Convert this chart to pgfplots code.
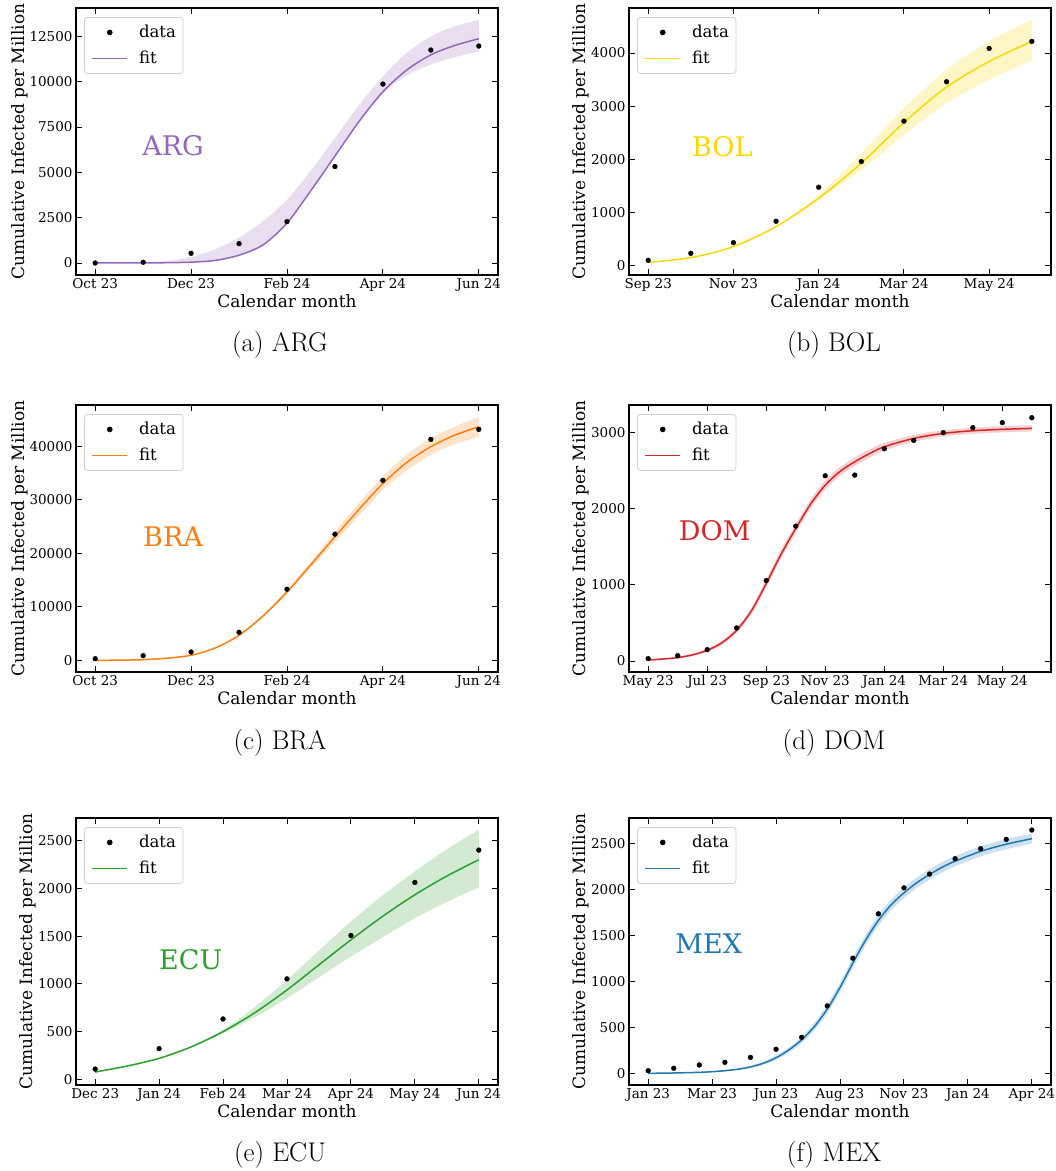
\documentclass[border=0pt]{standalone}
\usepackage{fontspec}
\usepackage{pgfplots}
\pgfplotsset{compat=1.18}
\usepgfplotslibrary{fillbetween}
\newfontfamily\dvs{DejaVu Serif}
\definecolor{argc}{HTML}{9467BD}
\definecolor{bolc}{HTML}{FFD700}
\definecolor{brac}{HTML}{FF7F0E}
\definecolor{domc}{HTML}{D62728}
\definecolor{ecuc}{HTML}{2CA02C}
\definecolor{mexc}{HTML}{1F77B4}
\tikzset{
  cname/.style={font=\fontsize{27}{30}\dvs, anchor=center},
  subcap/.style={font=\fontsize{27}{31}\selectfont, anchor=base},
}
\pgfplotsset{
  panel/.style={
    scale only axis, width=422pt, height=267pt,
    axis line style={line width=1.1pt},
    tick align=inside, major tick length=6pt,
    every tick/.style={black, line width=0.9pt},
    ticklabel style={font=\fontsize{13.5}{15}\dvs, inner sep=0pt},
    /pgf/number format/assume math mode=true,
    /pgf/number format/1000 sep={},
    scaled y ticks=false,
    xticklabel shift=3pt, yticklabel shift=3.3pt,
    xlabel={Calendar month}, ylabel={Cumulative Infected per Million},
    label style={font=\fontsize{17}{20}\dvs},
    x label style={at={(axis description cs:0.5,0)}, anchor=base, yshift=-32pt, inner sep=0pt},
    y label style={inner sep=0pt, yshift=1.5pt},
    legend style={at={(axis description cs:0,1)}, anchor=north west, xshift=8pt, yshift=-9pt,
      draw=black!18, line width=0.8pt, rounded corners=3pt, fill=white,
      font=\fontsize{16.5}{19}\dvs, inner xsep=7pt, inner ysep=8pt, row sep=12pt,
      nodes={inner sep=0pt}, column sep=11pt},
    legend cell align=left,
  },
  dat/.style={only marks, mark=*, mark size=2.4pt, black, forget plot},
  fitl/.style={#1, line width=1.5pt, mark=none, smooth, forget plot},
  legdat/.style={legend image code/.code={\fill[black] (17.5pt,0pt) circle (2.4pt);}},
  legfit/.style={legend image code/.code={\draw[#1, line width=1.7pt] (0pt,0pt) -- (35pt,0pt);}},
  bnd/.style={draw=none, smooth, forget plot},
}
\begin{document}
\begin{tikzpicture}

% ---------------- (a) ARG
\begin{axis}[panel, at={(76pt,-275pt)}, anchor=south west,
  xmin=-0.4, xmax=8.4, ymin=-663, ymax=14065,
  xtick={0,2,4,6,8}, xticklabels={Oct 23,Dec 23,Feb 24,Apr 24,Jun 24},
  ytick={0,2500,5000,7500,10000,12500}]
\addplot[bnd, name path=U] coordinates {(0,0)(0.5,2)(1,20)(1.5,110)(2,330)(2.5,750)(3,1400)(3.5,2300)(4,3500)(4.5,5100)(5,6900)(5.5,8700)(6,10300)(6.5,11600)(7,12500)(7.5,13050)(8,13420)};
\addplot[bnd, name path=L] coordinates {(0,0)(0.5,1)(1,5)(1.5,15)(2,45)(2.5,140)(3,430)(3.5,1000)(4,2200)(4.5,4000)(5,5900)(5.5,7750)(6,9350)(6.5,10350)(7,10950)(7.5,11350)(8,11670)};
\addplot[argc!22, forget plot] fill between[of=U and L];
\addplot[fitl=argc] coordinates {(0,0)(0.5,1)(1,5)(1.5,15)(2,45)(2.5,140)(3,430)(3.5,1000)(4,2200)(4.5,4000)(5,5900)(5.5,7800)(6,9450)(6.5,10650)(7,11480)(7.5,12000)(8,12370)};
\addplot[dat] coordinates {(0,0)(1,40)(2,534)(3,1068)(4,2283)(5,5320)(6,9868)(7,11746)(8,11967)};
\addlegendimage{legdat}\addlegendentry{data}
\addlegendimage{legfit=argc}\addlegendentry{fit}
\node[cname, text=argc] at (rel axis cs:0.23,0.483) {ARG};
\end{axis}
\node[subcap] at (280pt,-351pt) {(a) ARG};

% ---------------- (b) BOL
\begin{axis}[panel, at={(629pt,-275pt)}, anchor=south west,
  xmin=-0.45, xmax=9.45, ymin=-176, ymax=4848,
  xtick={0,2,4,6,8}, xticklabels={Sep 23,Nov 23,Jan 24,Mar 24,May 24},
  ytick={0,1000,2000,3000,4000}]
\addplot[bnd, name path=U] coordinates {(0,63)(1,155)(2,365)(3,745)(4,1331)(5,2116)(6,2964)(7,3686)(8,4220)(9,4628)};
\addplot[bnd, name path=L] coordinates {(0,63)(1,148)(2,352)(3,725)(4,1237)(5,1802)(6,2462)(7,3058)(8,3498)(9,3856)};
\addplot[bolc!22, forget plot] fill between[of=U and L];
\addplot[fitl=bolc] coordinates {(0,63)(1,151)(2,358)(3,735)(4,1268)(5,1928)(6,2694)(7,3360)(8,3843)(9,4220)};
\addplot[dat] coordinates {(0,100)(1,232)(2,433)(3,835)(4,1476)(5,1959)(6,2719)(7,3460)(8,4088)(9,4220)};
\addlegendimage{legdat}\addlegendentry{data}
\addlegendimage{legfit=bolc}\addlegendentry{fit}
\node[cname, text=bolc] at (rel axis cs:0.221,0.48) {BOL};
\end{axis}
\node[subcap] at (834pt,-351pt) {(b) BOL};

% ---------------- (c) BRA
\begin{axis}[panel, at={(76pt,-672pt)}, anchor=south west,
  xmin=-0.4, xmax=8.4, ymin=-2184, ymax=47736,
  xtick={0,2,4,6,8}, xticklabels={Oct 23,Dec 23,Feb 24,Apr 24,Jun 24},
  ytick={0,10000,20000,30000,40000}]
\addplot[bnd, name path=U] coordinates {(0,0)(0.5,31)(1,130)(1.5,415)(2,975)(2.5,2360)(3,4800)(3.5,8550)(4,13200)(4.5,18450)(5,24100)(5.5,29400)(6,34400)(6.5,38500)(7,41500)(7.5,43700)(8,45500)};
\addplot[bnd, name path=L] coordinates {(0,0)(0.5,29)(1,120)(1.5,385)(2,925)(2.5,2240)(3,4550)(3.5,8050)(4,12400)(4.5,17350)(5,22100)(5.5,27000)(6,31800)(6.5,35500)(7,38400)(7.5,40400)(8,41800)};
\addplot[brac!22, forget plot] fill between[of=U and L];
\addplot[fitl=brac] coordinates {(0,0)(0.5,30)(1,125)(1.5,400)(2,950)(2.5,2300)(3,4680)(3.5,8300)(4,12792)(4.5,17900)(5,23088)(5.5,28200)(6,33072)(6.5,37000)(7,39936)(7.5,42100)(8,43680)};
\addplot[dat] coordinates {(0,312)(1,873)(2,1560)(3,5242)(4,13292)(5,23588)(6,33634)(7,41309)(8,43181)};
\addlegendimage{legdat}\addlegendentry{data}
\addlegendimage{legfit=brac}\addlegendentry{fit}
\node[cname, text=brac] at (rel axis cs:0.23,0.507) {BRA};
\end{axis}
\node[subcap] at (280pt,-749pt) {(c) BRA};

% ---------------- (d) DOM
\begin{axis}[panel, at={(629pt,-672pt)}, anchor=south west,
  xmin=-0.65, xmax=13.65, ymin=-145, ymax=3364,
  xtick={0,2,4,6,8,10,12}, xticklabels={May 23,Jul 23,Sep 23,Nov 23,Jan 24,Mar 24,May 24},
  ytick={0,1000,2000,3000}]
\addplot[bnd, name path=U] coordinates {(0,21)(0.5,35)(1,56)(1.5,96)(2,160)(2.5,268)(3,439)(3.5,705)(4,1073)(4.5,1460)(5,1801)(5.5,2120)(6,2371)(6.5,2548)(7,2675)(7.5,2780)(8,2866)(9,2970)(10,3033)(11,3066)(12,3084)(13,3097)};
\addplot[bnd, name path=L] coordinates {(0,5)(0.5,17)(1,32)(1.5,64)(2,120)(2.5,212)(3,369)(3.5,615)(4,963)(4.5,1340)(5,1681)(5.5,2000)(6,2251)(6.5,2432)(7,2561)(7.5,2670)(8,2766)(9,2880)(10,2949)(11,2986)(12,3004)(13,3017)};
\addplot[domc!22, forget plot] fill between[of=U and L];
\addplot[fitl=domc] coordinates {(0,13)(0.5,26)(1,44)(1.5,80)(2,140)(2.5,240)(3,404)(3.5,660)(4,1018)(4.5,1400)(5,1741)(5.5,2060)(6,2311)(6.5,2490)(7,2618)(7.5,2725)(8,2816)(9,2925)(10,2991)(11,3026)(12,3044)(13,3057)};
\addplot[dat] coordinates {(0,31)(1,70)(2,149)(3,434)(4,1057)(5,1772)(6,2434)(7,2443)(8,2789)(9,2899)(10,3000)(11,3066)(12,3132)(13,3197)};
\addlegendimage{legdat}\addlegendentry{data}
\addlegendimage{legfit=domc}\addlegendentry{fit}
\node[cname, text=domc] at (rel axis cs:0.203,0.53) {DOM};
\end{axis}
\node[subcap] at (834pt,-749pt) {(d) DOM};

% ---------------- (e) ECU
\begin{axis}[panel, at={(76pt,-1085pt)}, anchor=south west,
  xmin=-0.3, xmax=6.3, ymin=-59, ymax=2738,
  xtick={0,1,2,3,4,5,6}, xticklabels={Dec 23,Jan 24,Feb 24,Mar 24,Apr 24,May 24,Jun 24},
  ytick={0,500,1000,1500,2000,2500}]
\addplot[bnd, name path=U] coordinates {(0,80)(0.5,144)(1,225)(1.5,348)(2,517)(2.5,760)(3,1042)(3.5,1350)(4,1654)(4.5,1930)(5,2179)(5.5,2410)(6,2616)};
\addplot[bnd, name path=L] coordinates {(0,74)(0.5,136)(1,215)(1.5,332)(2,483)(2.5,650)(3,850)(3.5,1070)(4,1287)(4.5,1490)(5,1689)(5.5,1860)(6,2011)};
\addplot[ecuc!22, forget plot] fill between[of=U and L];
\addplot[fitl=ecuc] coordinates {(0,77)(0.5,140)(1,220)(1.5,340)(2,500)(2.5,700)(3,937)(3.5,1200)(4,1462)(4.5,1710)(5,1934)(5.5,2130)(6,2301)};
\addplot[dat] coordinates {(0,108)(1,322)(2,633)(3,1053)(4,1507)(5,2063)(6,2402)};
\addlegendimage{legdat}\addlegendentry{data}
\addlegendimage{legfit=ecuc}\addlegendentry{fit}
\node[cname, text=ecuc] at (rel axis cs:0.272,0.468) {ECU};
\end{axis}
\node[subcap] at (280pt,-1161pt) {(e) ECU};

% ---------------- (f) MEX
\begin{axis}[panel, at={(629pt,-1085pt)}, anchor=south west,
  xmin=-0.75, xmax=15.75, ymin=-127, ymax=2780,
  xtick={0,2.5,5,7.5,10,12.5,15}, xticklabels={Jan 23,Mar 23,Jun 23,Aug 23,Nov 23,Jan 24,Apr 24},
  ytick={0,500,1000,1500,2000,2500}]
\addplot[bnd, name path=U] coordinates {(0,1)(1,6)(2,15)(2.5,23)(3,36)(3.5,54)(4,82)(4.5,126)(5,192)(5.5,283)(6,400)(6.5,552)(7,748)(7.5,987)(8,1255)(8.5,1507)(9,1723)(9.5,1893)(10,2023)(10.5,2132)(11,2222)(11.5,2301)(12,2366)(13,2472)(14,2550)(15,2610)};
\addplot[bnd, name path=L] coordinates {(0,-1)(1,2)(2,7)(2.5,13)(3,22)(3.5,36)(4,58)(4.5,94)(5,148)(5.5,227)(6,330)(6.5,468)(7,652)(7.5,883)(8,1145)(8.5,1393)(9,1607)(9.5,1777)(10,1907)(10.5,2018)(11,2108)(11.5,2189)(12,2254)(13,2362)(14,2440)(15,2500)};
\addplot[mexc!22, forget plot] fill between[of=U and L];
\addplot[fitl=mexc] coordinates {(0,0)(1,4)(2,11)(2.5,18)(3,29)(3.5,45)(4,70)(4.5,110)(5,170)(5.5,255)(6,365)(6.5,510)(7,700)(7.5,935)(8,1200)(8.5,1450)(9,1665)(9.5,1835)(10,1965)(10.5,2075)(11,2165)(11.5,2245)(12,2310)(13,2417)(14,2495)(15,2555)};
\addplot[dat] coordinates {(0,29)(1,55)(2,91)(3,120)(4,174)(5,262)(6,392)(7,734)(8,1254)(9,1737)(10,2020)(11,2170)(12,2337)(13,2446)(14,2547)(15,2649)};
\addlegendimage{legdat}\addlegendentry{data}
\addlegendimage{legfit=mexc}\addlegendentry{fit}
\node[cname, text=mexc] at (rel axis cs:0.189,0.53) {MEX};
\end{axis}
\node[subcap] at (834pt,-1161pt) {(f) MEX};

\pgfresetboundingbox
\path[use as bounding box] (0,0) rectangle (1056pt,-1171pt);
\end{tikzpicture}
\end{document}
